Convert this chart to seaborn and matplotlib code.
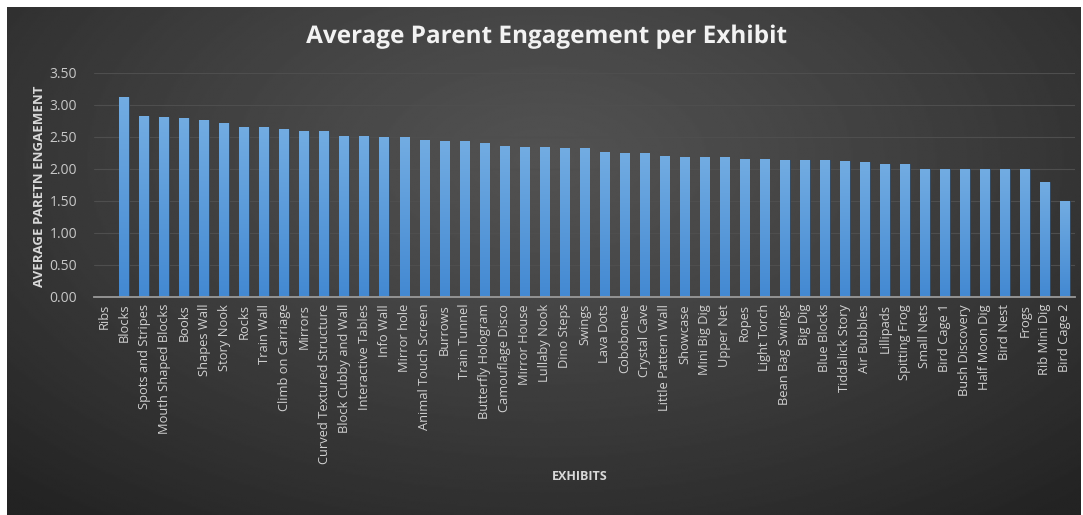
import numpy as np
import pandas as pd
import matplotlib
matplotlib.use("Agg")
import matplotlib.pyplot as plt
from matplotlib import patheffects
from matplotlib.colors import LinearSegmentedColormap
import seaborn as sns

exhibits = [
    "Ribs", "Blocks", "Spots and Stripes", "Mouth Shaped Blocks", "Books",
    "Shapes Wall", "Story Nook", "Rocks", "Train Wall", "Climb on Carriage",
    "Mirrors", "Curved Textured Structure", "Block Cubby and Wall",
    "Interactive Tables", "Info Wall", "Mirror hole", "Animal Touch Screen",
    "Burrows", "Train Tunnel", "Butterfly Hologram", "Camouflage Disco",
    "Mirror House", "Lullaby Nook", "Dino Steps", "Swings", "Lava Dots",
    "Cobobonee", "Crystal Cave", "Little Pattern Wall", "Showcase",
    "Mini Big Dig", "Upper Net", "Ropes", "Light Torch", "Bean Bag Swings",
    "Big Dig", "Blue Blocks", "Tiddalick Story", "Air Bubbles", "Lillipads",
    "Spitting Frog", "Small Nets", "Bird Cage 1", "Bush Discovery",
    "Half Moon Dig", "Bird Nest", "Frogs", "Rib Mini Dig", "Bird Cage 2",
]
engagement = [
    0.00, 3.12, 2.82, 2.81, 2.80,
    2.76, 2.72, 2.66, 2.65, 2.62,
    2.59, 2.59, 2.52,
    2.52, 2.49, 2.49, 2.45,
    2.43, 2.43, 2.41, 2.36,
    2.34, 2.34, 2.32, 2.32, 2.26,
    2.24, 2.24, 2.20, 2.19,
    2.19, 2.18, 2.16, 2.15, 2.13,
    2.13, 2.13, 2.12, 2.10, 2.07,
    2.07, 2.00, 2.00, 2.00,
    2.00, 2.00, 2.00, 1.80, 1.50,
]
y_ticks = [0.0, 0.5, 1.0, 1.5, 2.0, 2.5, 3.0, 3.5]

df = pd.DataFrame({"Exhibit": exhibits, "Engagement": engagement})

sns.set_theme(style="dark")
plt.rcParams["font.family"] = ["Open Sans", "DejaVu Sans"]

W, H = 1083, 515
fig = plt.figure(figsize=(W / 100, H / 100), dpi=100, facecolor="white")

# dark panel with a soft radial glow
bg = fig.add_axes([7 / W, 0, (1081 - 7) / W, (H - 7) / H])
yy, xx = np.mgrid[0:1:300j, 0:1:600j]
d = np.sqrt(((xx - 0.5) / 0.7) ** 2 + ((yy - 0.3) / 0.85) ** 2)
shade = np.clip(0.32 - 0.17 * d ** 1.2, 0.14, 0.34)
bg.imshow(shade, cmap="gray", vmin=0, vmax=1, aspect="auto",
          extent=[0, 1, 0, 1], origin="upper", interpolation="bilinear")
bg.set_axis_off()

ax = fig.add_axes([94 / W, 1 - 297 / H, (1075 - 94) / W, (297 - 72.7) / H])
ax.patch.set_alpha(0)

sns.barplot(data=df, x="Exhibit", y="Engagement", ax=ax, color="#5b9bd5",
            width=0.48, saturation=1, errorbar=None, zorder=3,
            edgecolor="#2c4560", linewidth=0.6)

# vertical gradient fill inside each bar
bar_cmap = LinearSegmentedColormap.from_list("bar", ["#4389d2", "#72ace2"])
grad = np.linspace(1, 0, 100).reshape(-1, 1)
for p in list(ax.patches):
    h = p.get_height()
    if h <= 0:
        continue
    x0 = p.get_x()
    w = p.get_width()
    im = ax.imshow(grad, extent=[x0, x0 + w, 0, h], aspect="auto",
                   cmap=bar_cmap, zorder=4, interpolation="bilinear")
    im.set_clip_path(p)

ax.set_xlim(-0.5, len(exhibits) - 0.5)
ax.set_ylim(0, 3.5)
ax.set_yticks(y_ticks)
ax.set_yticklabels([f"{v:.2f}" for v in y_ticks], color="#c8c8c8", fontsize=10)
ax.set_xticks(range(len(exhibits)))
ax.set_xticklabels(exhibits, rotation=90, color="#d0d0d0", fontsize=9.3)
ax.tick_params(axis="both", length=0, pad=5)
ax.tick_params(axis="y", pad=12)
ax.yaxis.grid(True, color="#4e4e4e", linewidth=0.8, zorder=0)
ax.xaxis.grid(False)
for side in ["top", "right", "left"]:
    ax.spines[side].set_visible(False)
ax.spines["bottom"].set_color("#9a9a9a")
ax.spines["bottom"].set_linewidth(1.3)
ax.spines["bottom"].set_zorder(5)
ax.set_xlabel("")
ax.set_ylabel("")

fig.text(546 / W, 1 - 37 / H, "Average Parent Engagement per Exhibit",
         ha="center", va="center", fontsize=17.5, fontweight="bold",
         color="#f2f2f2",
         path_effects=[patheffects.withSimplePatchShadow(offset=(1, -1), alpha=0.6)])
fig.text(40 / W, 1 - 186 / H, "AVERAGE PARETN ENGAEMENT", rotation=90,
         ha="center", va="center", fontsize=9.5, fontweight="bold",
         color="#d9d9d9")
fig.text(580 / W, 1 - 477 / H, "EXHIBITS", ha="center", va="center",
         fontsize=9, fontweight="bold", color="#d9d9d9")

fig.savefig("out.png", dpi=100, facecolor="white")
